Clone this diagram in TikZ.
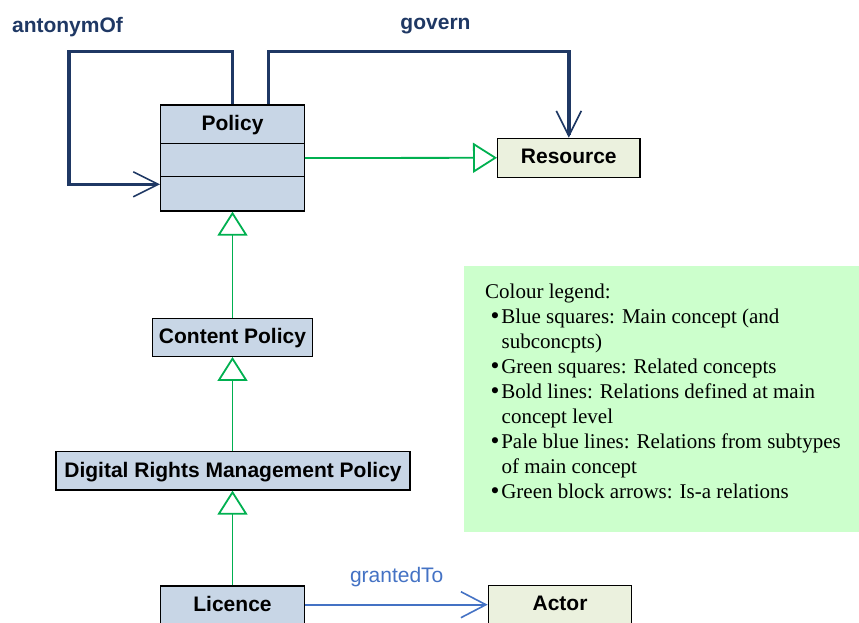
\documentclass[tikz,border=0pt]{standalone}
\usepackage{fontspec}
\setmainfont{Liberation Serif}
\newfontfamily\arialf{Liberation Sans}
\newfontfamily\dejavuf{DejaVu Sans}
\usetikzlibrary{arrows.meta,calc}
\definecolor{navy}{RGB}{31,56,100}
\definecolor{boxblue}{RGB}{200,214,230}
\definecolor{boxbeige}{RGB}{235,241,222}
\definecolor{isagreen}{RGB}{0,176,80}
\definecolor{legendgreen}{RGB}{204,255,204}
\definecolor{relblue}{RGB}{68,114,196}
\newcommand{\legbullet}{{\dejavuf\textbullet}}
\begin{document}
\begin{tikzpicture}[x=1pt,y=-1pt,
  concept/.style={draw=black,line width=1.3pt,fill=boxblue,inner sep=0pt,
    font=\arialf\fontsize{21}{24}\selectfont\bfseries,text height=15pt,text depth=2.6pt},
  related/.style={concept,fill=boxbeige},
  ptitle/.style={inner sep=0pt,font=\arialf\fontsize{21}{24}\selectfont\bfseries,text height=15pt,text depth=2.6pt},
  mainrel/.style={draw=navy,line width=3.5pt,-{Straight Barb[length=25pt,width=25pt,line width=1.6pt]}},
  isa/.style={draw=isagreen,line width=1.8pt,-{Triangle[open,length=24pt,width=30pt]}},
  subrel/.style={draw=relblue,line width=1.8pt,-{Straight Barb[length=25pt,width=26pt,line width=1.6pt]}},
  mainlabel/.style={text=navy,font=\arialf\fontsize{21}{24}\selectfont\bfseries,inner sep=0pt,anchor=base},
  sublabel/.style={text=relblue,font=\arialf\fontsize{21}{24}\selectfont,inner sep=0pt,anchor=base},
  legline/.style={inner sep=0pt,anchor=base west,font=\fontsize{21}{24}\selectfont},
]
\useasboundingbox (0,0) rectangle (859,623);

% legend
\node[fill=legendgreen,inner sep=0pt,minimum width=396pt,minimum height=266pt,anchor=north west] (legend) at (464,266) {};
\node[legline] (l1) at (485,298) {Colour legend:};
\node[legline] (l2) at (488.7,323.1) {\legbullet Blue squares: Main concept (and};
\node[legline] (l3) at (501.5,348.2) {subconcpts)};
\node[legline] (l4) at (488.7,373.3) {\legbullet Green squares: Related concepts};
\node[legline] (l5) at (488.7,398.4) {\legbullet Bold lines: Relations defined at main};
\node[legline] (l6) at (501.5,423.5) {concept level};
\node[legline] (l7) at (488.7,448.6) {\legbullet Pale blue lines: Relations from subtypes};
\node[legline] (l8) at (501.5,473.7) {of main concept};
\node[legline] (l9) at (488.7,498.8) {\legbullet Green block arrows: Is-a relations};

% concepts
\node[concept,minimum width=143.6pt,minimum height=106pt] (policy) at (232.5,158) {};
\coordinate (d1) at (0,143.3);
\coordinate (d2) at (0,176.7);
\draw[line width=1.3pt] (policy.west |- d1) -- (policy.east |- d1);
\draw[line width=1.3pt] (policy.west |- d2) -- (policy.east |- d2);
\node[ptitle] (policytitle) at (232.5,124) {Policy};

\node[related,minimum width=142.3pt,minimum height=39pt] (resource) at (568.8,157.8) {Resource};
\node[concept,minimum width=160.4pt,minimum height=38pt] (content) at (232.5,337.3) {Content Policy};
\node[concept,minimum width=354pt,minimum height=38.3pt] (drm) at (233,470.85) {Digital Rights Management Policy};
\node[concept,minimum width=143.6pt,minimum height=38pt] (licence) at (232.5,605) {Licence};
\node[related,minimum width=143.4pt,minimum height=38pt] (actor) at (560,604.7) {Actor};

% main relations
\coordinate (a1) at (69,51.7);
\coordinate (a2) at (69,184.3);
\draw[mainrel] (policy.north) |- (a1) |- (policy.west |- a2);
\node[mainlabel] (antlabel) at (67.5,33) {antonymOf};

\coordinate (g1) at (568.8,51.7);
\draw[mainrel] ([xshift=36pt]policy.north) |- (g1) -- (resource.north);
\node[mainlabel] (govlabel) at (435.5,29.5) {govern};

% is-a relations
\draw[isa] (policy.east) -- (resource.west);
\draw[isa] (content.north) -- (policy.south);
\draw[isa] (drm.north -| content.north) -- (content.south);
\draw[isa] (licence.north) -- (drm.south -| licence.north);

% subtype relation
\draw[subrel] (licence.east |- actor.west) -- (actor.west);
\node[sublabel] (grantlabel) at (396.7,582.7) {grantedTo};
\end{tikzpicture}
\end{document}
